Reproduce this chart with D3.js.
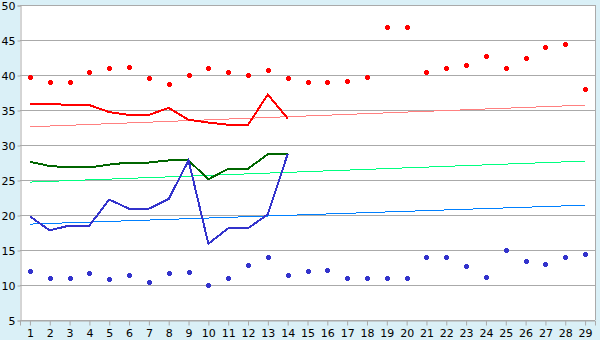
<!DOCTYPE html>
<html>
<head>
<meta charset="utf-8">
<script src="https://cdn.jsdelivr.net/npm/d3@7"></script>
<style>
  body { margin: 0; background: #daf0f7; }
  svg { display: block; }
  text { font-family: "DejaVu Sans", sans-serif; font-size: 11px; fill: #000; }
</style>
</head>
<body>
<div id="chart"></div>
<script>
var days = d3.range(1, 30);

var maxPoints = [39.7, 39.0, 39.0, 40.4, 41.0, 41.1, 39.5, 38.7, 40.0, 41.0,
  40.5, 40.0, 40.7, 39.5, 39.0, 39.0, 39.2, 39.7, 46.8, 46.8,
  40.4, 41.0, 41.5, 42.7, 41.0, 42.4, 44.0, 44.4, 38.0];
var minPoints = [12.0, 11.0, 11.0, 11.7, 10.8, 11.4, 10.5, 11.7, 11.8, 10.0,
  11.0, 12.8, 14.0, 11.4, 12.0, 12.1, 11.0, 11.0, 11.0, 11.0,
  14.0, 14.0, 12.7, 11.1, 15.0, 13.4, 13.0, 14.0, 14.4];
var redLine = [35.9, 35.9, 35.7, 35.7, 34.7, 34.3, 34.3, 35.3, 33.6, 33.2, 32.9, 32.9, 37.2, 33.8];
var greenLine = [27.6, 27.0, 26.8, 26.8, 27.2, 27.5, 27.5, 27.8, 27.8, 25.1, 26.6, 26.6, 28.7, 28.7];
var blueLine = [19.8, 17.8, 18.5, 18.5, 22.2, 20.9, 20.9, 22.3, 27.8, 15.9, 18.1, 18.1, 20.1, 28.7];
// trend lines: value at day 1 and day 29
var redTrend = [32.6, 35.7];
var greenTrend = [24.7, 27.7];
var blueTrend = [18.7, 21.4];
var yTicks = [5, 10, 15, 20, 25, 30, 35, 40, 45, 50];

var W = 600, H = 340;
var padL = 20, padR = 595, padT = 5, padB = 320;

var svg = d3.select("#chart").append("svg")
  .attr("width", W).attr("height", H);

var x = d3.scalePoint().domain(days).range([padL, padR]).padding(0.5);
var y = d3.scaleLinear().domain([5, 50]).range([padB, padT]);

svg.append("rect")
  .attr("x", padL).attr("y", padT)
  .attr("width", padR - padL).attr("height", padB - padT)
  .attr("fill", "#fff");

// grid
svg.append("g").selectAll("line")
  .data(yTicks)
  .enter().append("line")
  .attr("x1", padL).attr("x2", padR)
  .attr("y1", function (d) { return y(d) + 0.5; })
  .attr("y2", function (d) { return y(d) + 0.5; })
  .attr("stroke", "#aaa").attr("shape-rendering", "crispEdges");

svg.append("line")
  .attr("x1", padR + 0.5).attr("x2", padR + 0.5)
  .attr("y1", padT).attr("y2", padB)
  .attr("stroke", "#aaa").attr("shape-rendering", "crispEdges");

var yAxis = svg.append("g")
  .attr("transform", "translate(" + (padL + 0.5) + ",0.5)")
  .call(d3.axisLeft(y).tickValues(yTicks).tickSize(3).tickPadding(2));
var xAxis = svg.append("g")
  .attr("transform", "translate(0," + (padB + 0.5) + ")")
  .call(d3.axisBottom(x).tickSize(5).tickPadding(4));
[yAxis, xAxis].forEach(function (a) {
  a.select(".domain").attr("stroke", "#aaa");
  a.selectAll(".tick line").attr("stroke", "#aaa");
  a.selectAll("text").attr("font-family", "DejaVu Sans").attr("font-size", 11).attr("fill", "#000");
});
yAxis.selectAll("text").attr("dy", "0.4em");

// trend lines
function trend(vals, color) {
  svg.append("line")
    .attr("x1", x(1)).attr("x2", x(29))
    .attr("y1", y(vals[0])).attr("y2", y(vals[1]))
    .attr("stroke", color).attr("stroke-width", 1)
    .attr("shape-rendering", "crispEdges");
}
trend(redTrend, "#ff8080");
trend(greenTrend, "#00ff80");
trend(blueTrend, "#0080ff");

var line = d3.line()
  .x(function (d, i) { return x(days[i]); })
  .y(function (d) { return y(d); });

function series(vals, color) {
  svg.append("path")
    .datum(vals)
    .attr("d", line)
    .attr("fill", "none")
    .attr("stroke", color)
    .attr("stroke-width", 2)
    .attr("shape-rendering", "crispEdges");
}
series(redLine, "#ff0000");
series(greenLine, "#006600");
series(blueLine, "#3333cc");

var marker = "M-1.5,-2.5h3v1h1v3h-1v1h-3v-1h-1v-3h1z";
function points(vals, color) {
  svg.append("g").selectAll("path")
    .data(vals)
    .enter().append("path")
    .attr("d", marker)
    .attr("transform", function (d, i) {
      return "translate(" + Math.round(x(days[i])) + "," + Math.round(y(d)) + ")";
    })
    .attr("fill", color)
    .attr("shape-rendering", "crispEdges");
}
points(maxPoints, "#ff0000");
points(minPoints, "#3333cc");
</script>
</body>
</html>
